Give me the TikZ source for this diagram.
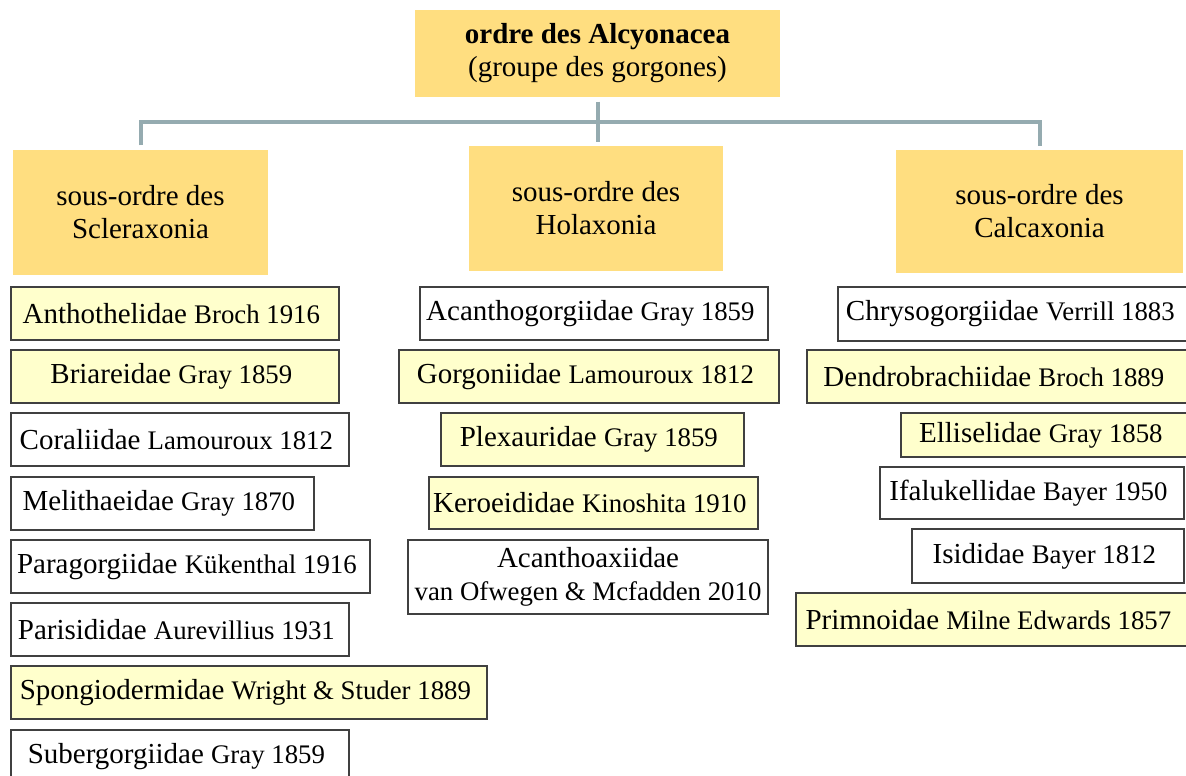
\documentclass[tikz,border=0pt]{standalone}
\usepackage{fontspec}
\setmainfont{Liberation Serif}
\definecolor{ordrefill}{HTML}{FFDE80}
\definecolor{famfill}{HTML}{FFFFCC}
\definecolor{boxline}{HTML}{404040}
\definecolor{branchline}{HTML}{95ABB0}
\newcommand\famfont{\fontsize{29}{33}\selectfont}
\newcommand\autfont{\fontsize{26.8}{33}\selectfont}
\tikzset{
  ordrebox/.style={fill=ordrefill, align=center, inner sep=0pt, font=\famfont},
  famyellow/.style={draw=boxline, line width=1.5pt, fill=famfill, inner sep=0pt, align=center, font=\famfont},
  famwhite/.style={draw=boxline, line width=1.5pt, fill=white, inner sep=0pt, align=center, font=\famfont},
  branch/.style={draw=branchline, line width=4pt, shorten <=4.5pt, shorten >=4pt}
}
\begin{document}
\begin{tikzpicture}[x=1pt, y=-1pt]
  \useasboundingbox (0,0) rectangle (1186,776);

  % ordre et sous-ordres
  \node [ ordrebox, minimum width=365pt, minimum height=87pt ] (ordre) at (597.5,53.5)
    { \textbf{ordre des Alcyonacea}\\(groupe des gorgones) };
  \node [ ordrebox, minimum width=255pt, minimum height=125pt ] (scler) at (140.5,212.5)
    { sous-ordre des\\Scleraxonia };
  \node [ ordrebox, minimum width=254pt, minimum height=125pt ] (holax) at (596,208.5)
    { sous-ordre des\\Holaxonia };
  \node [ ordrebox, minimum width=287pt, minimum height=123pt ] (calca) at (1039.5,211.5)
    { sous-ordre des\\Calcaxonia };

  \coordinate (junction) at (597.5,122);
  \draw [ branch ] (ordre.south) -- (ordre.south |- holax.north);
  \draw [ branch ] (scler.north) |- (junction) -| (calca.north);

  % Scleraxonia
  \node [ famyellow, minimum width=328pt, minimum height=53pt ] (antho) at (175,313.5)
    { Anthothelidae {\autfont Broch 1916} };
  \node [ famyellow, minimum width=328pt, minimum height=53pt ] (briar) at (175,376.5)
    { Briareidae {\autfont Gray 1859} };
  \node [ famwhite, minimum width=338pt, minimum height=53pt ] (coral) at (180,439.5)
    { Coraliidae {\autfont Lamouroux 1812} };
  \node [ famwhite, minimum width=303pt, minimum height=53pt ] (melit) at (162.5,503.5)
    { Melithaeidae {\autfont Gray 1870} };
  \node [ famwhite, minimum width=359pt, minimum height=53pt ] (parag) at (190.5,566.5)
    { Paragorgiidae {\autfont Kükenthal 1916} };
  \node [ famwhite, minimum width=338pt, minimum height=53pt ] (paris) at (180,629.5)
    { Parisididae {\autfont Aurevillius 1931} };
  \node [ famyellow, minimum width=476pt, minimum height=53pt ] (spong) at (249,692.5)
    { Spongiodermidae {\autfont Wright \& Studer 1889} };
  \node [ famwhite, minimum width=338pt, minimum height=53pt ] (suber) at (180,756.5)
    { Subergorgiidae {\autfont Gray 1859} };

  % Holaxonia
  \node [ famwhite, minimum width=348pt, minimum height=53pt ] (acang) at (594,313.5)
    { Acanthogorgiidae {\autfont Gray 1859} };
  \node [ famyellow, minimum width=380pt, minimum height=53pt ] (gorgo) at (589,376.5)
    { Gorgoniidae {\autfont Lamouroux 1812} };
  \node [ famyellow, minimum width=303pt, minimum height=53pt ] (plexa) at (592.5,439.5)
    { Plexauridae {\autfont Gray 1859} };
  \node [ famyellow, minimum width=329pt, minimum height=52pt ] (keroe) at (593.5,503)
    { Keroeididae {\autfont Kinoshita 1910} };
  \node [ famwhite, minimum width=360pt, minimum height=74pt ] (acanx) at (588,577)
    { Acanthoaxiidae\\{\autfont van Ofwegen \& Mcfadden 2010} };

  % Calcaxonia
  \node [ famwhite, minimum width=352pt, minimum height=54pt ] (chrys) at (1014,314)
    { Chrysogorgiidae {\autfont Verrill 1883} };
  \node [ famyellow, minimum width=381pt, minimum height=53pt ] (dendr) at (997.5,376.5)
    { Dendrobrachiidae {\autfont Broch 1889} };
  \node [ famyellow, minimum width=287pt, minimum height=44pt ] (ellis) at (1044.5,435)
    { Elliselidae {\autfont Gray 1858} };
  \node [ famwhite, minimum width=304pt, minimum height=52pt ] (ifalu) at (1032,493)
    { Ifalukellidae {\autfont Bayer 1950} };
  \node [ famwhite, minimum width=272pt, minimum height=54pt ] (isidi) at (1048,556)
    { Isididae {\autfont Bayer 1812} };
  \node [ famyellow, minimum width=392pt, minimum height=53pt ] (primn) at (992,619.5)
    { Primnoidae {\autfont Milne Edwards 1857} };
\end{tikzpicture}
\end{document}
